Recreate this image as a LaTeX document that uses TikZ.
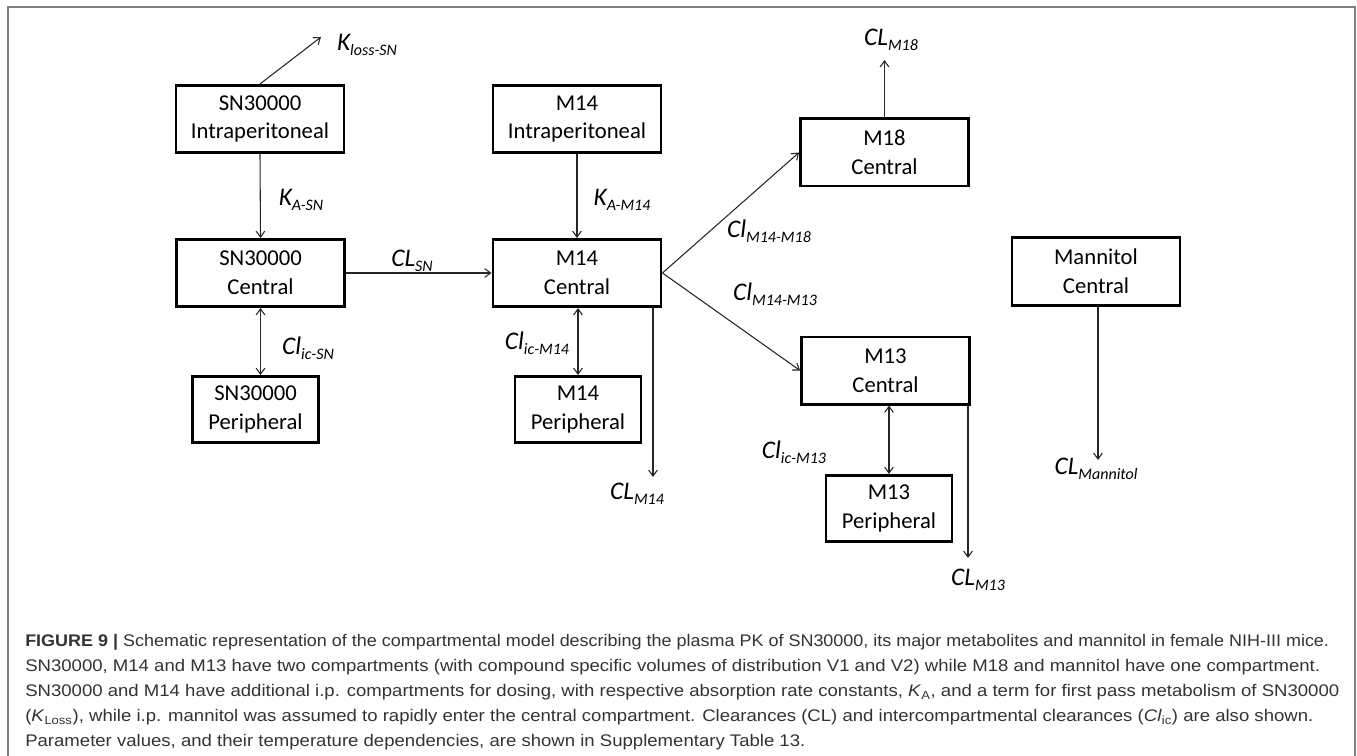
\documentclass[tikz,border=0pt]{standalone}
\usepackage{fontspec}
\setmainfont{Carlito}
\newfontfamily\capfont[FakeStretch=1.105]{Liberation Sans}
\newfontfamily\capfontn[FakeStretch=1.07]{Liberation Sans}
\usetikzlibrary{arrows.meta}

\tikzset{
  comp/.style={draw, line width=2.2pt, align=center, inner sep=0pt,
    minimum width=126pt, minimum height=50.3pt,
    font=\fontsize{17}{21.5}\selectfont},
  peri/.style={comp, minimum width=94.5pt, minimum height=49.5pt},
  flow/.style={-{Straight Barb[length=4.5pt,width=6.5pt]}, line width=0.8pt, black!85},
  both/.style={flow, {Straight Barb[length=4.5pt,width=6.5pt]}-{Straight Barb[length=4.5pt,width=6.5pt]}},
  lbl/.style={inner sep=0pt, font=\fontsize{19}{19}\selectfont\itshape}
}
\newcommand{\sbs}[1]{\raisebox{-4pt}{\fontsize{12}{12}\selectfont #1}}

\begin{document}
\begin{tikzpicture}[x=0.75pt, y=-0.75pt]
\useasboundingbox (0,0) rectangle (1357,756);

% cadre
\draw[gray, line width=1.2pt] (8,756) -- (8,7) -- (1355,7) -- (1355,756);

% SN30000
\node[comp] (sni) at (260,119) {SN30000\\Intraperitoneal};
\node[comp] (snc) at (260.5,273) {SN30000\\Central};
\node[peri] (snp) at (255.5,409.5) {SN30000\\Peripheral};

% M14
\node[comp] (m14i) at (577,119) {M14\\Intraperitoneal};
\node[comp] (m14c) at (577,273) {M14\\Central};
\node[peri] (m14p) at (578,409.5) {M14\\Peripheral};

% M18 et M13
\node[comp] (m18c) at (884.5,152.5) {M18\\Central};
\node[comp] (m13c) at (885.5,370.5) {M13\\Central};
\node[peri] (m13p) at (889,508.5) {M13\\Peripheral};

% Mannitol
\node[comp] (manc) at (1096,271.5) {Mannitol\\Central};

% sorties
\coordinate (kloss) at (321,37);
\coordinate (cl18) at (884.5,60);
\coordinate (cl14) at (653,477);
\coordinate (cl13) at (968,558);
\coordinate (clman) at (1098,460);

% connexions
\draw[flow] (sni.north) -- (kloss);
\draw[flow] (sni.south) -- (snc.north);
\draw[both] (snc.south) -- (snc.south |- snp.north);
\draw[flow] (snc) -- (m14c);
\draw[flow] (m14i.south) -- (m14c.north);
\draw[both] (m14p.north |- m14c.south) -- (m14p.north);
\draw[flow] (m14c.east) -- (m18c.west);
\draw[flow] (m14c.east) -- (m13c.west);
\draw[flow] (m18c.north) -- (cl18);
\draw[flow] (m14c.south -| cl14) -- (cl14);
\draw[both] (m13p.north |- m13c.south) -- (m13p.north);
\draw[flow] (m13c.south -| cl13) -- (cl13);
\draw[flow] (manc.south -| clman) -- (clman);

% constantes
\node[lbl] (lkloss) at (367,45) {K\sbs{loss-SN}};
\node[lbl] (lkasn) at (301,200) {K\sbs{A-SN}};
\node[lbl] (lkam14) at (622,200) {K\sbs{A-M14}};
\node[lbl] (lclsn) at (412,261) {CL\sbs{SN}};
\node[lbl] (licsn) at (308,348) {Cl\sbs{ic-SN}};
\node[lbl] (licm14) at (537,343) {Cl\sbs{ic-M14}};
\node[lbl] (lm18) at (769,231) {Cl\sbs{M14-M18}};
\node[lbl] (lm13) at (775,294) {Cl\sbs{M14-M13}};
\node[lbl] (lcl18) at (891,40) {CL\sbs{M18}};
\node[lbl] (lcl14) at (637,494) {CL\sbs{M14}};
\node[lbl] (licm13) at (794,452) {Cl\sbs{ic-M13}};
\node[lbl] (lcl13) at (978,580) {CL\sbs{M13}};
\node[lbl] (lclman) at (1096,469) {CL\sbs{Mannitol}};

% legende
\node[anchor=north west, inner sep=0pt, align=left, text=black!80,
  font=\capfont\fontsize{12.6}{18.75}\selectfont] (caption) at (25,634)
{{\capfontn\textbf{FIGURE 9 |} Schematic representation of the compartmental model describing the plasma PK of SN30000, its major metabolites and mannitol in female NIH-III mice.}\\
SN30000, M14 and M13 have two compartments (with compound specific volumes of distribution V1 and V2) while M18 and mannitol have one compartment.\\
SN30000 and M14 have additional i.p. compartments for dosing, with respective absorption rate constants, \textit{K}\textsubscript{A}, and a term for first pass metabolism of SN30000\\
(\textit{K}\textsubscript{Loss}), while i.p. mannitol was assumed to rapidly enter the central compartment. Clearances (CL) and intercompartmental clearances (\textit{Cl}\textsubscript{ic}) are also shown.\\
Parameter values, and their temperature dependencies, are shown in Supplementary Table 13.};
\end{tikzpicture}
\end{document}
